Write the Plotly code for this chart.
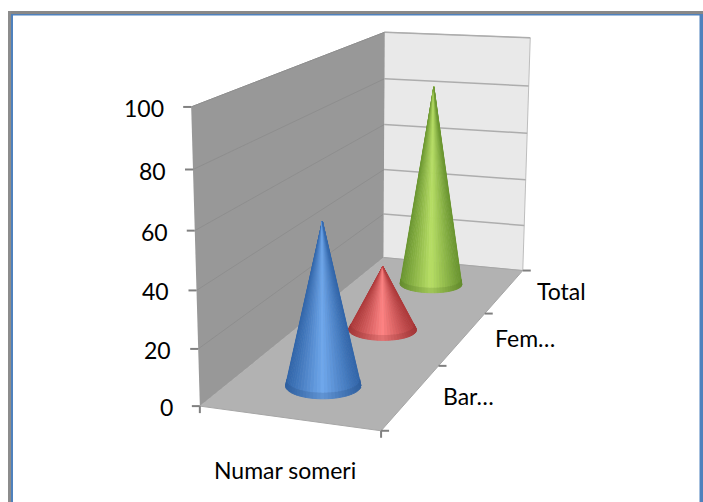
import numpy as np
import plotly.graph_objects as go

categories = ["Bar…", "Fem…", "Total"]
values = [58, 25, 83]
series_name = "Numar someri"
z_ticks = [0, 20, 40, 60, 80, 100]

# colours of each cone: edge, highlight
cone_edge = ["#3266AA", "#AE3A3B", "#6A9530"]
cone_light = ["#70A8EC", "#FF8484", "#B9E067"]

FONT = dict(family="Lato, Carlito, sans-serif", size=23, color="#000000")

# camera fitted to the picture, the chart is an Excel 3D view
EYE = np.array([2.716, -8.289, 2.09])
CENTER = np.array([-0.386, -0.429, -0.302])
ASPECT = np.array([1, 3.077, 1.585])
UP = np.array([0.009, 0.004, 1])
FOCAL = 1517.7
PX, PY = 296.236, 263.764

f = (CENTER - EYE) / np.linalg.norm(CENTER - EYE)
r = np.cross(f, UP)
r = r / np.linalg.norm(r)
t = np.cross(r, f)


def project(x, y, v):
    # x: 0..1 along series, y: 0..3 along categories, v: value 0..100
    p = ASPECT * (np.array([x, y / 3, v / 100]) - 0.5)
    d = p - EYE
    z = d @ f
    return PX + d @ r / z * FOCAL, PY - d @ t / z * FOCAL


def polygon(points, fill, line=None, width=1):
    xs = [a[0] for a in points]
    ys = [a[1] for a in points]
    return go.Scatter(x=xs, y=ys, mode="lines", fill="toself", fillcolor=fill,
                      line=dict(color=line or fill, width=width),
                      hoverinfo="skip", showlegend=False)


def seg(a, b, color, width=1):
    return go.Scatter(x=[a[0], b[0]], y=[a[1], b[1]], mode="lines",
                      line=dict(color=color, width=width),
                      hoverinfo="skip", showlegend=False)


def mix(c1, c2, s, k=1.0):
    a = [int(c1[i:i + 2], 16) for i in (1, 3, 5)]
    b = [int(c2[i:i + 2], 16) for i in (1, 3, 5)]
    return "rgb(%d,%d,%d)" % tuple(k * (u + (w - u) * s) for u, w in zip(a, b))


fig = go.Figure()

# walls and floor
fig.add_trace(polygon([project(0, 0, 0), project(0, 3, 0), project(0, 3, 100), project(0, 0, 100)], "#989898"))
fig.add_trace(polygon([project(0, 3, 0), project(1, 3, 0), project(1, 3, 100), project(0, 3, 100)], "#E9E9E9", "#BDBDBD", 1))
fig.add_trace(polygon([project(0, 0, 0), project(1, 0, 0), project(1, 3, 0), project(0, 3, 0)], "#B2B2B2", "#A6A6A6", 1))

# gridlines
for v in z_ticks[1:]:
    fig.add_trace(seg(project(0, 0, v), project(0, 3, v), "#8E8E8E", 1))
    fig.add_trace(seg(project(0, 3, v), project(1, 3, v), "#ADADAD", 1.5))

# tick marks
for v in z_ticks:
    a = project(0, 0, v)
    fig.add_trace(seg(a, (a[0] - 8, a[1]), "#808080", 2))
for i in range(len(categories) + 1):
    a = project(1, i, 0)
    fig.add_trace(seg(a, (a[0] + 8, a[1]), "#808080", 2))
for x in (0, 1):
    a = project(x, 0, 0)
    fig.add_trace(seg(a, (a[0], a[1] + 7), "#808080", 2))

# cones, back to front
RADIUS = 0.205
N = 64
for i in reversed(range(len(values))):
    yc = i + 0.5
    angles = np.linspace(0, 2 * np.pi, N + 1)
    base = [project(0.5 + RADIUS * np.cos(a), yc + RADIUS * 3 / ASPECT[1] * np.sin(a), 0) for a in angles]
    rim_v = min(2.0, values[i] * 0.07)
    rim_k = 1 - rim_v / values[i]
    rim = [project(0.5 + RADIUS * rim_k * np.cos(a), yc + RADIUS * rim_k * 3 / ASPECT[1] * np.sin(a), rim_v) for a in angles]
    tip = project(0.5, yc, values[i])
    xs = [b[0] for b in base]
    mid, half = (max(xs) + min(xs)) / 2, (max(xs) - min(xs)) / 2
    for j in range(N):
        a, b = base[j], base[j + 1]
        cross = (a[0] - tip[0]) * (b[1] - tip[1]) - (a[1] - tip[1]) * (b[0] - tip[0])
        if cross >= 0:
            continue
        pos = ((a[0] + b[0]) / 2 - mid) / half
        s = 1 - abs(pos)
        c = mix(cone_edge[i], cone_light[i], s)
        fig.add_trace(polygon([tip, rim[j], rim[j + 1]], c))
        fig.add_trace(polygon([rim[j], a, b, rim[j + 1]], mix(cone_edge[i], cone_light[i], s * 0.85, 0.94)))

# text
annotations = []
for v in z_ticks:
    a = project(0, 0, v)
    annotations.append(dict(x=a[0], y=a[1], text=str(v), xanchor="right", yanchor="middle", xshift=-25, yshift=-1))
for i, name in enumerate(categories):
    a = project(1, i + 0.5, 0)
    annotations.append(dict(x=a[0], y=a[1], text=name, xanchor="left", yanchor="middle", xshift=30))
a = project(0.5, 0, 0)
annotations.append(dict(x=a[0], y=a[1], text=series_name, xanchor="center", yanchor="middle", xshift=-3, yshift=-52))

fig.update_layout(
    width=703, height=502,
    margin=dict(l=0, r=0, t=0, b=0),
    paper_bgcolor="#FFFFFF", plot_bgcolor="#FFFFFF",
    showlegend=False,
    font=FONT,
    xaxis=dict(range=[0, 703], visible=False, fixedrange=True),
    yaxis=dict(range=[502, 0], visible=False, fixedrange=True),
    annotations=[dict(an, showarrow=False, xref="x", yref="y", font=FONT) for an in annotations],
    shapes=[
        dict(type="rect", xref="x", yref="y", x0=8, x1=703, y0=11, y1=14, fillcolor="#888888", line_width=0),
        dict(type="rect", xref="x", yref="y", x0=11, x1=703, y0=14, y1=15.5, fillcolor="#4F81BD", line_width=0),
        dict(type="rect", xref="x", yref="y", x0=8, x1=11, y0=11, y1=502, fillcolor="#8C8C8C", line_width=0),
        dict(type="rect", xref="x", yref="y", x0=11, x1=13, y0=14, y1=502, fillcolor="#4F81BD", line_width=0),
        dict(type="rect", xref="x", yref="y", x0=699.5, x1=703, y0=14, y1=502, fillcolor="#4F81BD", line_width=0),
    ],
)

fig.write_html("out.html", config=dict(displayModeBar=False),
               post_script="document.body.style.margin='0';document.body.style.overflow='hidden';")
